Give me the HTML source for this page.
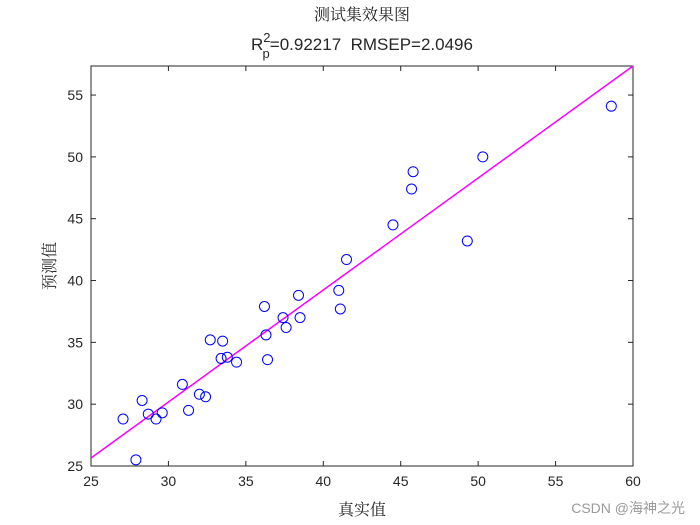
<!DOCTYPE html>
<html><head><meta charset="utf-8"><style>
body{margin:0;background:#fff;}
svg{display:block;font-family:"Liberation Sans","Noto Sans CJK SC",sans-serif;}
</style></head><body>
<svg id="chart" width="700" height="525">
<rect width="700" height="525" fill="#fff"/>
<text x="362" y="20" text-anchor="middle" font-size="16" fill="#262626" font-family="'Noto Serif CJK SC','Noto Sans CJK SC',serif">测试集效果图</text>
<text x="362" y="50" text-anchor="middle" font-size="17" fill="#262626">R<tspan dy="-8" font-size="13">2</tspan><tspan dx="-8" dy="16" font-size="13">p</tspan><tspan dy="-8">=0.92217&#160; RMSEP=2.0496</tspan></text>
<g id="plot"></g>
<text x="362" y="515" text-anchor="middle" font-size="16" fill="#262626" font-family="'Noto Serif CJK SC','Noto Sans CJK SC',serif">真实值</text>
<text transform="translate(55,266) rotate(-90)" text-anchor="middle" font-size="16" fill="#262626" font-family="'Noto Serif CJK SC','Noto Sans CJK SC',serif">预测值</text>
<text x="685" y="513" text-anchor="end" font-size="14" fill="#9a9a9a">CSDN @海神之光</text>
</svg>
<script>
const xTicks=[25,30,35,40,45,50,55,60];
const yTicks=[25,30,35,40,45,50,55];
const actualVals=[27.07,27.9,28.3,28.7,29.2,29.6,30.9,31.3,32.0,32.4,32.7,33.4,33.5,33.8,34.4,36.2,36.3,36.4,37.4,37.6,38.4,38.5,41.0,41.1,41.5,44.5,45.7,45.8,49.3,50.3,58.6];
const predVals=[28.8,25.5,30.3,29.2,28.8,29.3,31.6,29.5,30.8,30.6,35.2,33.7,35.1,33.8,33.4,37.9,35.6,33.6,37.0,36.2,38.8,37.0,39.2,37.7,41.7,44.5,47.4,48.8,43.2,50.0,54.1];
const fitLine=[25.65,57.35];
const L=91,R=633,T=66,B=466,xMin=25,xMax=60,yMin=25,yMax=57.35;
const sx=v=>L+(v-xMin)/(xMax-xMin)*(R-L);
const sy=v=>B-(v-yMin)/(yMax-yMin)*(B-T);
const NS='http://www.w3.org/2000/svg';
const g=document.getElementById('plot');
function mk(t,a){const e=document.createElementNS(NS,t);for(const k in a)e.setAttribute(k,a[k]);g.appendChild(e);return e;}
let box=mk('rect',{x:L,y:T,width:R-L,height:B-T,fill:'#fff',stroke:'#262626','stroke-width':1});


xTicks.forEach(v=>{const x=sx(v);
mk('line',{x1:x,x2:x,y1:B,y2:B-5,stroke:'#262626'});mk('line',{x1:x,x2:x,y1:T,y2:T+5,stroke:'#262626'});
const t=mk('text',{x:x,y:B+20,'text-anchor':'middle','font-size':14,fill:'#262626'});t.textContent=v;

});
yTicks.forEach(v=>{const y=sy(v);
mk('line',{x1:L,x2:L+5,y1:y,y2:y,stroke:'#262626'});mk('line',{x1:R,x2:R-5,y1:y,y2:y,stroke:'#262626'});
const t=mk('text',{x:L-8,y:y+5,'text-anchor':'end','font-size':14,fill:'#262626'});t.textContent=v;

});
const ln=mk('line',{x1:sx(xMin),y1:sy(fitLine[0]),x2:sx(xMax),y2:sy(fitLine[1]),stroke:'#ff00ff','stroke-width':1.5});


actualVals.forEach((v,i)=>{const c=mk('circle',{cx:sx(v),cy:sy(predVals[i]),r:5,fill:'none',stroke:'#0000ff','stroke-width':1});

});
</script>
</body></html>
